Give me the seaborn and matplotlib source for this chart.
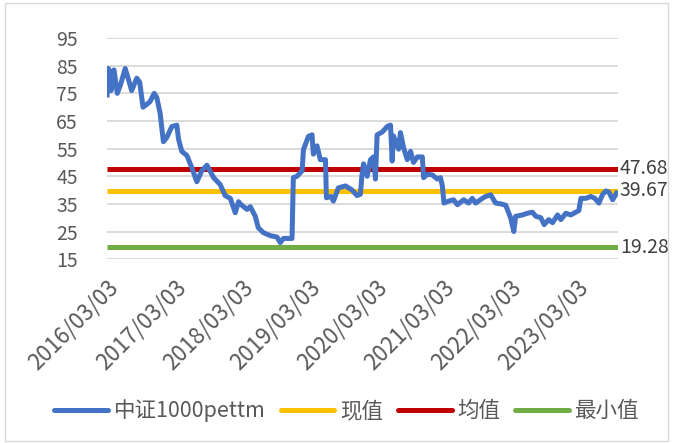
import numpy as np
import pandas as pd
import matplotlib

matplotlib.use("Agg")
import matplotlib.pyplot as plt
import matplotlib.dates as mdates
from matplotlib.patches import Rectangle
from matplotlib.lines import Line2D
import seaborn as sns

# values
dates = [
    "2016-03-03", "2016-03-10", "2016-03-19", "2016-03-25", "2016-04-10", "2016-04-28",
    "2016-05-15", "2016-06-10", "2016-06-28", "2016-07-15", "2016-08-12", "2016-08-28",
    "2016-09-15", "2016-10-05", "2016-10-23", "2016-11-15", "2016-11-29", "2016-12-17",
    "2017-01-04", "2017-01-22", "2017-02-19", "2017-03-18", "2017-03-27", "2017-04-14",
    "2017-05-12", "2017-06-08", "2017-07-05", "2017-08-01", "2017-08-29", "2017-10-04",
    "2017-11-09", "2017-12-06", "2018-01-03", "2018-01-30", "2018-02-17", "2018-02-26",
    "2018-04-04", "2018-04-22", "2018-05-19", "2018-06-04", "2018-07-02", "2018-08-09",
    "2018-09-14", "2018-10-02", "2018-10-19", "2018-12-05", "2018-12-12", "2019-01-01",
    "2019-01-29", "2019-02-05", "2019-03-04", "2019-03-24", "2019-03-31", "2019-04-20",
    "2019-05-08", "2019-06-05", "2019-06-10", "2019-07-05", "2019-07-18", "2019-08-14",
    "2019-09-22", "2019-10-28", "2019-11-24", "2019-12-12", "2019-12-20", "2019-12-29",
    "2020-01-18", "2020-02-05", "2020-02-21", "2020-03-03", "2020-03-12", "2020-04-09",
    "2020-05-06", "2020-05-24", "2020-06-02", "2020-06-09", "2020-07-07", "2020-07-17",
    "2020-08-03", "2020-08-23", "2020-09-10", "2020-09-26", "2020-10-17", "2020-11-13",
    "2020-11-20", "2020-12-10", "2021-01-06", "2021-02-03", "2021-02-20", "2021-03-02",
    "2021-03-11", "2021-04-05", "2021-05-02", "2021-05-23", "2021-06-26", "2021-07-23",
    "2021-08-12", "2021-08-30", "2021-10-06", "2021-10-24", "2021-11-20", "2021-12-17",
    "2022-01-14", "2022-02-10", "2022-03-09", "2022-03-26", "2022-04-05", "2022-05-12",
    "2022-06-08", "2022-07-05", "2022-07-24", "2022-08-20", "2022-09-07", "2022-10-02",
    "2022-10-23", "2022-11-19", "2022-12-07", "2023-01-03", "2023-01-30", "2023-02-27",
    "2023-03-15", "2023-03-26", "2023-04-22", "2023-05-19", "2023-06-10", "2023-07-02",
    "2023-07-22", "2023-08-09", "2023-08-25", "2023-09-15", "2023-10-03", "2023-10-13",
]
pe_ttm = [
    73.5, 84.0, 83.0, 76.0, 83.5, 75.0,
    78.0, 84.0, 80.0, 76.0, 80.5, 79.0,
    70.0, 71.0, 72.0, 75.0, 73.5, 67.8,
    57.5, 59.0, 63.0, 63.5, 58.5, 54.0,
    52.5, 48.0, 43.0, 47.0, 49.0, 44.5,
    42.0, 38.0, 37.0, 31.8, 35.8, 35.0,
    33.0, 34.0, 30.5, 26.4, 24.6, 23.5,
    23.0, 21.0, 22.5, 22.5, 44.5, 45.0,
    47.0, 54.6, 59.4, 60.0, 53.0, 56.0,
    51.0, 51.0, 37.2, 37.7, 36.0, 40.8,
    41.5, 40.0, 38.0, 38.5, 45.0, 49.5,
    45.0, 51.0, 52.0, 44.0, 60.0, 61.0,
    63.0, 63.5, 50.5, 59.6, 54.8, 60.8,
    55.4, 51.0, 54.0, 50.0, 52.0, 52.0,
    44.5, 45.7, 45.5, 44.0, 44.5, 41.5,
    35.3, 36.0, 36.5, 34.7, 36.5, 35.3,
    37.0, 35.3, 37.0, 37.7, 38.3, 35.3,
    35.0, 34.5, 29.9, 25.0, 30.5, 31.0,
    31.6, 32.0, 30.5, 30.0, 27.5, 29.3,
    28.2, 31.0, 29.3, 31.6, 31.0, 32.0,
    32.6, 37.0, 37.0, 37.7, 37.0, 35.3,
    38.4, 39.7, 39.3, 36.5, 38.5, 39.67,
]
current_val = 39.67
mean_val = 47.68
min_val = 19.28

series_names = ["中证1000pettm", "现值", "均值", "最小值"]
colors = ["#4472C4", "#FFC000", "#C00000", "#70AD47"]
tick_dates = ["2016-03-03", "2017-03-03", "2018-03-03", "2019-03-03",
              "2020-03-03", "2021-03-03", "2022-03-03", "2023-03-03"]

d = pd.to_datetime(dates)
n = len(d)
df = pd.DataFrame({
    "date": np.concatenate([d] * 4),
    "value": np.concatenate([pe_ttm, [current_val] * n, [mean_val] * n, [min_val] * n]),
    "series": np.repeat(series_names, n),
})

sns.set_style("white")
plt.rcParams["font.family"] = ["Noto Sans CJK SC", "DejaVu Sans"]

fig = plt.figure(figsize=(6.73, 4.43), dpi=100)
fig.patches.append(Rectangle((0.008, 0.004), 0.984, 0.99, transform=fig.transFigure,
                             fill=False, edgecolor="#D9D9D9", linewidth=1))
ax = fig.add_axes([0.159, 0.415, 0.759, 0.499])

# horizontal lines first so the PE series sits on top of them
order = ["现值", "均值", "最小值", "中证1000pettm"]
for name in order:
    sub = df[df["series"] == name]
    sns.lineplot(data=sub, x="date", y="value", ax=ax,
                 color=colors[series_names.index(name)], linewidth=3.6,
                 solid_capstyle="butt", legend=False,
                 zorder=4 if name == "中证1000pettm" else 3)

ax.set_ylim(15, 95)
ax.set_yticks(range(15, 96, 10))
ax.set_xlim(d[0], d[-1])
ax.grid(axis="y", color="#D9D9D9", linewidth=1.3)
ax.grid(axis="x", visible=False)
sns.despine(ax=ax, left=True, bottom=True)
ax.set_xlabel("")
ax.set_ylabel("")

ax.set_xticks(pd.to_datetime(tick_dates))
ax.xaxis.set_major_formatter(mdates.DateFormatter("%Y/%m/%d"))
ax.tick_params(axis="both", length=0, labelcolor="#595959")
ax.tick_params(axis="y", pad=21, labelsize=14)
ax.tick_params(axis="x", pad=12, labelsize=16)
for lbl in ax.get_xticklabels():
    lbl.set_rotation(45)
    lbl.set_ha("right")
    lbl.set_rotation_mode("anchor")

for v in [mean_val, current_val, min_val]:
    ax.annotate(f"{v:.2f}", xy=(1, v), xycoords=("axes fraction", "data"),
                xytext=(1.5, 0), textcoords="offset points", va="center", ha="left",
                fontsize=14, color="#404040")

handles = [Line2D([], [], color=c, linewidth=3.6, solid_capstyle="round") for c in colors]
ax.legend(handles, series_names, loc="center",
          bbox_to_anchor=(0.515, 0.073), bbox_transform=fig.transFigure, ncol=4,
          frameon=False, fontsize=15.5, labelcolor="#595959", handlelength=2.5,
          handletextpad=0.25, columnspacing=0.7)

fig.savefig("out.png", dpi=100)
plt.close(fig)
